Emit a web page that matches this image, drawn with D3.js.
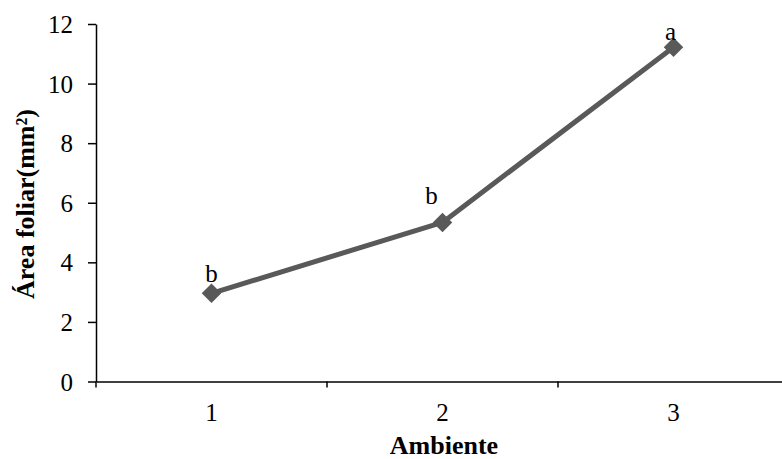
<!DOCTYPE html>
<html><head><meta charset="utf-8">
<script src="https://cdn.jsdelivr.net/npm/d3@7"></script>
<style>body{margin:0;background:#fff}svg{display:block}</style>
</head><body>
<svg id="c" width="782" height="459"></svg>
<script>
const categories = ["1", "2", "3"];
const values = [2.96, 5.34, 11.22];
const letters = ["b", "b", "a"];
const yTicks = [0, 2, 4, 6, 8, 10, 12];
const yTitle = "Área foliar(mm²)";
const xTitle = "Ambiente";

(function () {
const svg = d3.select("#c");
const font = "'Liberation Serif','Times New Roman',serif";
const mLeft = 96, mTop = 24, mBottom = 381.5, mRight = 789;

const x = d3.scaleBand().domain(categories).range([mLeft, mRight]).padding(0);
const y = d3.scaleLinear().domain([0, 12]).range([mBottom, mTop]);

// y axis
const ya = svg.append("g").attr("transform", `translate(${mLeft},0)`)
  .call(d3.axisLeft(y).tickValues(yTicks).tickSize(8).tickSizeOuter(0).tickPadding(15));
ya.select(".domain").attr("stroke", "#000").attr("stroke-width", 1.5);
ya.selectAll(".tick line").attr("stroke", "#000").attr("stroke-width", 1.5);
ya.selectAll(".tick text").attr("font-family", font).attr("font-size", 25).attr("fill", "#000").attr("dy", "0.34em");

// x axis
const xa = svg.append("g").attr("transform", `translate(0,${mBottom})`)
  .call(d3.axisBottom(x).tickSize(0).tickPadding(0));
xa.select(".domain").attr("stroke", "#000").attr("stroke-width", 1.5);
xa.selectAll(".tick text").attr("font-family", font).attr("font-size", 25).attr("fill", "#000")
  .attr("y", 39.5).attr("dy", 0);
// category boundary ticks
const bounds = categories.map(c => x(c)).concat([x(categories[categories.length-1]) + x.bandwidth()]);
svg.append("g").selectAll("line").data(bounds).join("line")
  .attr("x1", d => d).attr("x2", d => d).attr("y1", mBottom).attr("y2", mBottom + 6)
  .attr("stroke", "#000").attr("stroke-width", 1.5);

// titles
svg.append("text").attr("x", 444).attr("y", 454).attr("text-anchor", "middle")
  .attr("font-family", font).attr("font-weight", "bold").attr("font-size", 26).text(xTitle);
svg.append("text").attr("transform", "translate(34,204) rotate(-90)").attr("text-anchor", "middle")
  .attr("font-family", font).attr("font-weight", "bold").attr("font-size", 26).text(yTitle);

// line
const pts = categories.map((c, i) => [x(c) + x.bandwidth() / 2, y(values[i])]);
svg.append("path").datum(pts).attr("d", d3.line()).attr("fill", "none")
  .attr("stroke", "#595959").attr("stroke-width", 5).attr("stroke-linejoin", "round");
svg.append("g").selectAll("path").data(pts).join("path")
  .attr("d", d3.symbol().type(d3.symbolSquare).size(190))
  .attr("transform", d => `translate(${d[0]},${d[1]}) rotate(45)`)
  .attr("fill", "#595959");

// letters
const offs = [[0, -11], [-11, -18], [-3, -7]];
svg.append("g").selectAll("text").data(pts).join("text")
  .attr("x", (d, i) => d[0] + offs[i][0]).attr("y", (d, i) => d[1] + offs[i][1])
  .attr("text-anchor", "middle").attr("font-family", font).attr("font-size", 25)
  .text((d, i) => letters[i]);
})();
</script>
</body></html>
